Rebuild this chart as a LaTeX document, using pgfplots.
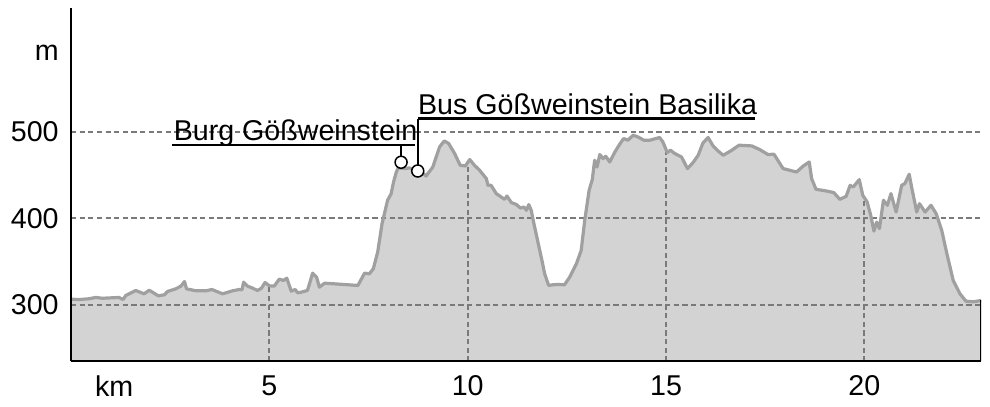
\documentclass[border=0pt]{standalone}
\usepackage{pgfplots}
\pgfplotsset{compat=1.18}
\usepackage{pgfplotstable}
\usepackage{fontspec}
\setmainfont{Liberation Sans}
\definecolor{fillgray}{HTML}{D3D3D3}
\definecolor{linegray}{HTML}{A0A0A0}
\definecolor{gridgray}{HTML}{7A7A7A}

\pgfplotstableread{
km m
0.00 306.5
0.20 306.1
0.45 307.0
0.62 308.5
0.79 307.6
1.21 308.5
1.31 306.1
1.38 310.8
1.63 316.6
1.84 312.7
1.97 316.9
2.20 310.4
2.35 311.6
2.43 315.4
2.64 318.5
2.77 321.6
2.86 327.0
2.91 318.5
3.15 316.2
3.40 316.2
3.55 317.7
3.82 312.7
4.07 316.2
4.24 317.7
4.31 317.4
4.35 326.2
4.45 321.6
4.58 319.2
4.70 316.6
4.80 319.2
4.89 325.8
5.00 322.0
5.12 321.6
5.25 329.7
5.35 328.2
5.44 330.8
5.55 315.8
5.65 317.7
5.71 313.9
5.80 314.6
5.96 316.6
6.09 336.6
6.19 332.0
6.26 320.4
6.39 325.0
6.76 323.9
7.23 322.4
7.40 336.6
7.52 335.9
7.62 341.7
7.73 360.9
7.84 393.9
7.98 420.9
8.07 428.6
8.13 442.1
8.20 453.6
8.24 457.6
8.26 458.3
8.40 457.6
8.53 458.3
8.66 455.6
8.83 453.6
8.95 449.0
9.12 459.4
9.29 482.6
9.41 489.6
9.52 486.5
9.67 475.0
9.81 461.4
9.94 460.6
10.05 468.0
10.17 461.4
10.30 455.6
10.47 446.0
10.51 438.2
10.59 438.2
10.72 428.6
10.93 422.0
10.99 425.8
11.10 418.2
11.22 416.2
11.33 411.9
11.42 413.1
11.48 409.3
11.54 415.9
11.60 409.3
11.66 395.7
11.77 372.5
11.88 349.4
11.94 335.9
12.04 322.4
12.15 323.2
12.27 323.5
12.44 323.2
12.57 332.0
12.74 347.5
12.86 362.9
12.95 397.7
13.06 432.4
13.14 444.8
13.20 467.2
13.26 459.4
13.33 473.8
13.41 469.2
13.48 471.8
13.58 465.2
13.71 476.8
13.83 485.7
13.93 492.3
14.04 490.4
14.17 496.2
14.29 494.2
14.44 490.4
14.59 490.4
14.74 492.3
14.84 493.5
14.92 488.4
15.03 476.1
15.11 478.8
15.22 475.0
15.39 471.0
15.54 457.6
15.68 464.5
15.81 473.0
15.93 487.2
16.06 493.5
16.19 483.4
16.34 476.8
16.44 473.0
16.63 478.0
16.84 484.6
17.16 483.8
17.36 479.6
17.57 473.8
17.72 474.2
17.95 457.6
18.29 453.6
18.46 460.6
18.61 465.2
18.67 446.0
18.78 433.6
19.05 431.6
19.23 429.8
19.38 422.0
19.54 425.5
19.64 438.2
19.72 436.3
19.87 444.8
19.96 426.6
20.07 418.9
20.16 403.5
20.24 385.3
20.31 395.7
20.38 388.1
20.48 420.9
20.58 415.1
20.67 428.6
20.80 407.3
20.94 438.2
21.02 440.2
21.13 451.0
21.19 436.3
21.32 407.3
21.39 417.0
21.53 407.3
21.68 415.1
21.81 405.4
21.95 386.1
22.08 359.1
22.24 328.2
22.41 312.7
22.56 304.2
22.75 303.5
22.94 305.0
}\profile

\begin{document}
\begin{tikzpicture}
\begin{axis}[
  scale only axis, width=454.5pt, height=176.5pt,
  xmin=0, xmax=22.94, ymin=234.6, ymax=643.3,
  axis x line=bottom, axis y line=left,
  axis line style={-, line width=1pt, black},
  xtick={5,10,15,20}, ytick={300,400,500},
  extra x ticks={1.085}, extra x tick labels={km},
  extra y ticks={592}, extra y tick labels={m},
  major tick length=0pt,
  axis on top,
  tick label style={font=\fontsize{14.3}{16}\selectfont},
  /pgf/number format/assume math mode=true,
  yticklabel style={anchor=east, inner sep=0pt, xshift=-6pt},
  xticklabel style={anchor=north, inner sep=0pt, yshift=-7pt},
]
\addplot[fill=fillgray, draw=none] table[x=km,y=m]{\profile} \closedcycle;
\pgfplotsset{gridline/.style={gridgray, line width=1pt, dash pattern=on 2.6pt off 1.7pt}}
\addplot[gridline] coordinates {(0,300) (22.94,300)};
\addplot[gridline] coordinates {(0,400) (22.94,400)};
\addplot[gridline] coordinates {(0,500) (22.94,500)};
\addplot[gridline] coordinates {(5,234.6) (5,322.0)};
\addplot[gridline] coordinates {(10,234.6) (10,464.6)};
\addplot[gridline] coordinates {(15,234.6) (15,479.5)};
\addplot[gridline] coordinates {(20,234.6) (20,421.3)};
\addplot[linegray, line width=1.6pt, line join=round] table[x=km,y=m]{\profile};
\addplot[black, line width=1pt] coordinates {(22.94,234.6) (22.94,305.0)};
% annotations
\addplot[black, line width=1pt] coordinates {(2.55,485.4) (8.66,485.4)};
\addplot[black, line width=1pt] coordinates {(8.32,485.4) (8.32,470.5)};
\addplot[black, line width=1pt] coordinates {(8.74,515.5) (17.24,515.5)};
\addplot[black, line width=1pt] coordinates {(8.74,515.5) (8.74,460.5)};
\addplot[only marks, mark=*, mark size=3pt, mark options={fill=white, draw=black, line width=0.75pt}] coordinates {(8.32,464.9) (8.74,454.8)};
\node[anchor=base west, inner sep=0pt, yshift=1.8pt, font=\fontsize{14.3}{16}\selectfont] at (axis cs:2.58,485.4) {Burg Gößweinstein};
\node[anchor=base west, inner sep=0pt, yshift=2pt, font=\fontsize{14.3}{16}\selectfont] at (axis cs:8.74,515.5) {Bus Gößweinstein Basilika};
\end{axis}
\pgfresetboundingbox
\path[use as bounding box] ([xshift=-35.5pt,yshift=-22.5pt]current axis.south west) rectangle ([xshift=4.5pt,yshift=4pt]current axis.north east);
\end{tikzpicture}
\end{document}
